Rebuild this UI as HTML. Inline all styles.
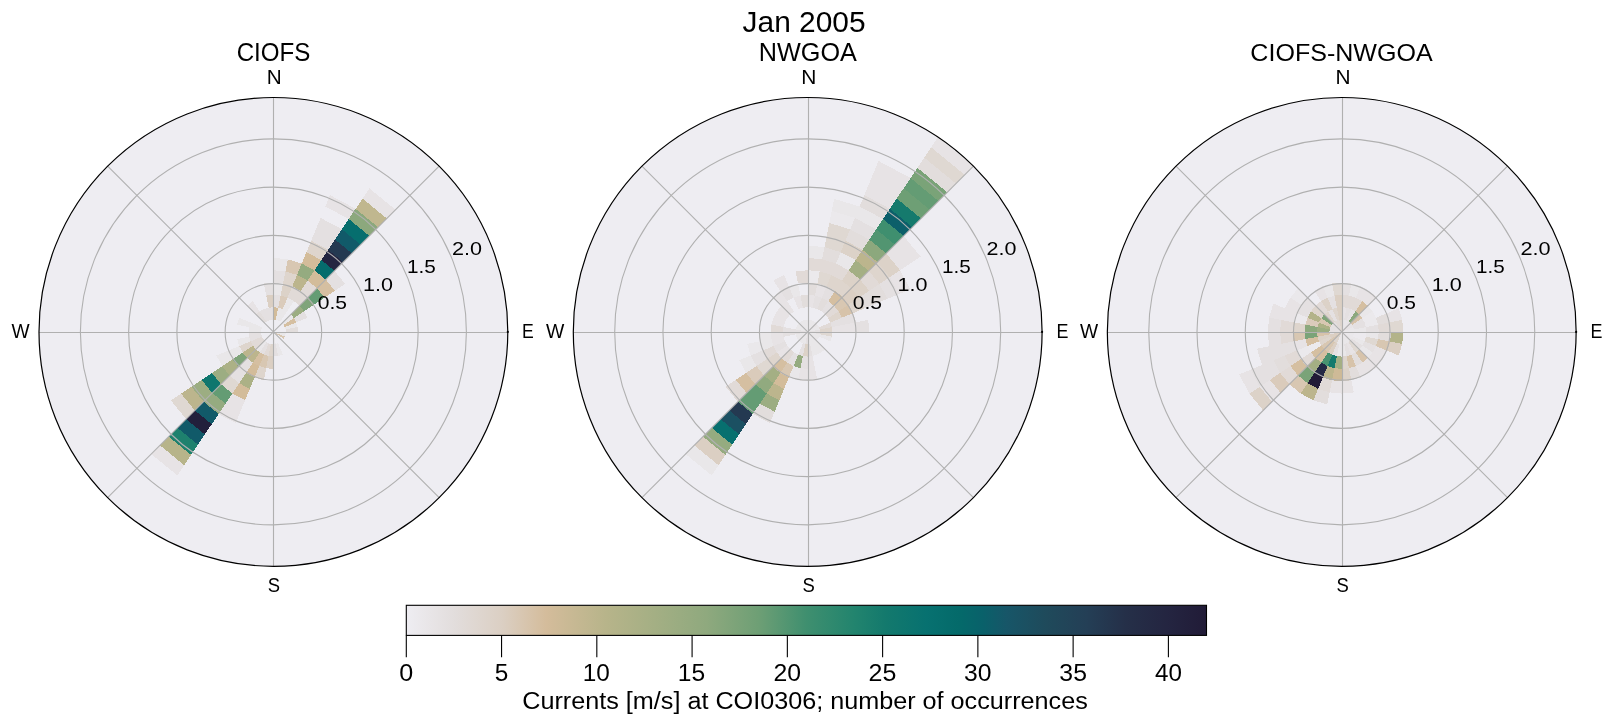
<!DOCTYPE html>
<html><head><meta charset="utf-8"><title>Jan 2005</title>
<style>html,body{margin:0;padding:0;background:#fff;width:1611px;height:724px;overflow:hidden;font-family:"Liberation Sans", sans-serif;}svg{display:block}text{-webkit-font-smoothing:antialiased;}.t{opacity:0.999}</style>
</head><body>
<svg width="1611" height="724" viewBox="0 0 1611 724" font-family='"Liberation Sans", sans-serif' fill="#000"><defs><linearGradient id="cb" x1="0" x2="1" y1="0" y2="0"><stop offset="0.000" stop-color="#eeedf2"/><stop offset="0.060" stop-color="#e2dddc"/><stop offset="0.120" stop-color="#dbcfc3"/><stop offset="0.175" stop-color="#d4bc9b"/><stop offset="0.250" stop-color="#b7b48a"/><stop offset="0.310" stop-color="#a4af84"/><stop offset="0.375" stop-color="#8fa97e"/><stop offset="0.440" stop-color="#6e9f75"/><stop offset="0.500" stop-color="#3f8f6f"/><stop offset="0.560" stop-color="#22846e"/><stop offset="0.600" stop-color="#13796d"/><stop offset="0.650" stop-color="#077170"/><stop offset="0.690" stop-color="#046a6a"/><stop offset="0.720" stop-color="#09616a"/><stop offset="0.750" stop-color="#175668"/><stop offset="0.800" stop-color="#1f4a5b"/><stop offset="0.850" stop-color="#243f56"/><stop offset="0.900" stop-color="#252f48"/><stop offset="0.950" stop-color="#242541"/><stop offset="1.000" stop-color="#211b37"/></linearGradient></defs><circle cx="273.4" cy="331.9" r="234.4" fill="#eeedf2"/>
<g shape-rendering="crispEdges">
<path d="M293.96,301.13 L300.82,290.87 L308.29,297.01 L299.57,305.73Z" fill="#e1dad7"/>
<path d="M300.82,290.87 L307.67,280.61 L317.02,288.28 L308.29,297.01Z" fill="#e1dad7"/>
<path d="M307.67,280.61 L314.52,270.35 L325.74,279.56 L317.02,288.28Z" fill="#d3bc9a"/>
<path d="M314.52,270.35 L321.38,260.10 L334.46,270.84 L325.74,279.56Z" fill="#056c6c"/>
<path d="M321.38,260.10 L328.23,249.84 L343.19,262.11 L334.46,270.84Z" fill="#242541"/>
<path d="M328.23,249.84 L335.09,239.58 L351.91,253.39 L343.19,262.11Z" fill="#243951"/>
<path d="M335.09,239.58 L341.94,229.32 L360.63,244.67 L351.91,253.39Z" fill="#115a69"/>
<path d="M341.94,229.32 L348.79,219.07 L369.36,235.94 L360.63,244.67Z" fill="#066e6e"/>
<path d="M348.79,219.07 L355.65,208.81 L378.08,227.22 L369.36,235.94Z" fill="#8ca87d"/>
<path d="M355.65,208.81 L362.50,198.55 L386.81,218.49 L378.08,227.22Z" fill="#c0b78f"/>
<path d="M362.50,198.55 L369.36,188.29 L395.53,209.77 L386.81,218.49Z" fill="#e7e3e5"/>
<path d="M278.12,320.50 L282.84,309.10 L287.11,311.38 L280.25,321.64Z" fill="#e9e7e9"/>
<path d="M282.84,309.10 L287.56,297.71 L293.96,301.13 L287.11,311.38Z" fill="#e9e7e9"/>
<path d="M287.56,297.71 L292.28,286.31 L300.82,290.87 L293.96,301.13Z" fill="#e1dad7"/>
<path d="M292.28,286.31 L297.01,274.91 L307.67,280.61 L300.82,290.87Z" fill="#bcb58d"/>
<path d="M297.01,274.91 L301.73,263.51 L314.52,270.35 L307.67,280.61Z" fill="#95ab80"/>
<path d="M301.73,263.51 L306.45,252.12 L321.38,260.10 L314.52,270.35Z" fill="#d3bc9a"/>
<path d="M306.45,252.12 L311.17,240.72 L328.23,249.84 L321.38,260.10Z" fill="#ded5cd"/>
<path d="M311.17,240.72 L315.89,229.32 L335.09,239.58 L328.23,249.84Z" fill="#e4e0e1"/>
<path d="M315.89,229.32 L320.61,217.92 L341.94,229.32 L335.09,239.58Z" fill="#e4e0e1"/>
<path d="M325.33,206.52 L330.05,195.13 L355.65,208.81 L348.79,219.07Z" fill="#e7e3e5"/>
<path d="M282.12,323.18 L290.85,314.45 L293.92,318.19 L283.66,325.05Z" fill="#e9e7e9"/>
<path d="M290.85,314.45 L299.57,305.73 L304.17,311.34 L293.92,318.19Z" fill="#9cad82"/>
<path d="M299.57,305.73 L308.29,297.01 L314.43,304.48 L304.17,311.34Z" fill="#80a47a"/>
<path d="M308.29,297.01 L317.02,288.28 L324.69,297.63 L314.43,304.48Z" fill="#649c74"/>
<path d="M317.02,288.28 L325.74,279.56 L334.95,290.78 L324.69,297.63Z" fill="#d5bfa1"/>
<path d="M325.74,279.56 L334.46,270.84 L345.20,283.92 L334.95,290.78Z" fill="#e4e0e1"/>
<path d="M275.81,319.80 L278.21,307.70 L282.84,309.10 L278.12,320.50Z" fill="#e9e7e9"/>
<path d="M278.21,307.70 L280.62,295.60 L287.56,297.71 L282.84,309.10Z" fill="#dacbbb"/>
<path d="M280.62,295.60 L283.03,283.50 L292.28,286.31 L287.56,297.71Z" fill="#dcd2c8"/>
<path d="M283.03,283.50 L285.43,271.40 L297.01,274.91 L292.28,286.31Z" fill="#ded5cd"/>
<path d="M285.43,271.40 L287.84,259.30 L301.73,263.51 L297.01,274.91Z" fill="#d8c7b2"/>
<path d="M273.40,319.56 L273.40,307.23 L278.21,307.70 L275.81,319.80Z" fill="#d3bc9a"/>
<path d="M273.40,307.23 L273.40,294.89 L280.62,295.60 L278.21,307.70Z" fill="#e4e0e1"/>
<path d="M273.40,294.89 L273.40,282.55 L283.03,283.50 L280.62,295.60Z" fill="#e9e7e9"/>
<path d="M273.40,282.55 L273.40,270.22 L285.43,271.40 L283.03,283.50Z" fill="#e4e0e1"/>
<path d="M273.40,270.22 L273.40,257.88 L287.84,259.30 L285.43,271.40Z" fill="#e9e7e9"/>
<path d="M270.99,319.80 L268.59,307.70 L273.40,307.23 L273.40,319.56Z" fill="#e4e0e1"/>
<path d="M268.59,307.70 L266.18,295.60 L273.40,294.89 L273.40,307.23Z" fill="#dbcfc3"/>
<path d="M266.18,295.60 L263.77,283.50 L273.40,282.55 L273.40,294.89Z" fill="#e4e0e1"/>
<path d="M268.68,320.50 L263.96,309.10 L268.59,307.70 L270.99,319.80Z" fill="#e4e0e1"/>
<path d="M283.66,325.05 L293.92,318.19 L296.20,322.46 L284.80,327.18Z" fill="#d5bfa1"/>
<path d="M293.92,318.19 L304.17,311.34 L307.59,317.74 L296.20,322.46Z" fill="#e4e0e1"/>
<path d="M284.80,327.18 L296.20,322.46 L297.60,327.09 L285.50,329.49Z" fill="#e9e7e9"/>
<path d="M285.50,329.49 L297.60,327.09 L298.07,331.90 L285.74,331.90Z" fill="#e2dddc"/>
<path d="M273.40,331.90 L284.80,336.62 L283.66,338.75 L273.40,331.90Z" fill="#d8c7b2"/>
<path d="M273.40,331.90 L285.74,331.90 L285.50,334.31 L273.40,331.90Z" fill="#e9e7e9"/>
<path d="M273.40,331.90 L285.50,334.31 L284.80,336.62 L273.40,331.90Z" fill="#e9e7e9"/>
<path d="M273.40,331.90 L275.81,344.00 L273.40,344.24 L273.40,331.90Z" fill="#e9e7e9"/>
<path d="M275.81,344.00 L278.21,356.10 L273.40,356.57 L273.40,344.24Z" fill="#e4e0e1"/>
<path d="M278.12,343.30 L282.84,354.70 L278.21,356.10 L275.81,344.00Z" fill="#e9e7e9"/>
<path d="M273.40,344.24 L273.40,356.57 L268.59,356.10 L270.99,344.00Z" fill="#ded5cd"/>
<path d="M273.40,356.57 L273.40,368.91 L266.18,368.20 L268.59,356.10Z" fill="#dbcfc3"/>
<path d="M270.99,344.00 L268.59,356.10 L263.96,354.70 L268.68,343.30Z" fill="#e1dad7"/>
<path d="M268.59,356.10 L266.18,368.20 L259.24,366.09 L263.96,354.70Z" fill="#d8c7b2"/>
<path d="M268.68,343.30 L263.96,354.70 L259.69,352.42 L266.55,342.16Z" fill="#e4e0e1"/>
<path d="M263.96,354.70 L259.24,366.09 L252.84,362.67 L259.69,352.42Z" fill="#d5bfa1"/>
<path d="M266.55,342.16 L259.69,352.42 L255.95,349.35 L264.68,340.62Z" fill="#e9e7e9"/>
<path d="M259.69,352.42 L252.84,362.67 L247.23,358.07 L255.95,349.35Z" fill="#bcb58d"/>
<path d="M252.84,362.67 L245.98,372.93 L238.51,366.79 L247.23,358.07Z" fill="#e4e0e1"/>
<path d="M264.68,340.62 L255.95,349.35 L252.88,345.61 L263.14,338.75Z" fill="#e1dad7"/>
<path d="M255.95,349.35 L247.23,358.07 L242.63,352.46 L252.88,345.61Z" fill="#bcb58d"/>
<path d="M263.14,338.75 L252.88,345.61 L250.60,341.34 L262.00,336.62Z" fill="#e1dad7"/>
<path d="M252.88,345.61 L242.63,352.46 L239.21,346.06 L250.60,341.34Z" fill="#ded5cd"/>
<path d="M262.00,336.62 L250.60,341.34 L249.20,336.71 L261.30,334.31Z" fill="#e4e0e1"/>
<path d="M261.30,334.31 L249.20,336.71 L248.73,331.90 L261.06,331.90Z" fill="#e4e0e1"/>
<path d="M261.06,331.90 L248.73,331.90 L249.20,327.09 L261.30,329.49Z" fill="#e9e7e9"/>
<path d="M261.30,329.49 L249.20,327.09 L250.60,322.46 L262.00,327.18Z" fill="#e9e7e9"/>
<path d="M249.20,327.09 L237.10,324.68 L239.21,317.74 L250.60,322.46Z" fill="#e9e7e9"/>
<path d="M264.68,323.18 L255.95,314.45 L259.69,311.38 L266.55,321.64Z" fill="#e2dddc"/>
<path d="M255.95,314.45 L247.23,305.73 L252.84,301.13 L259.69,311.38Z" fill="#e7e3e5"/>
<path d="M266.55,321.64 L259.69,311.38 L263.96,309.10 L268.68,320.50Z" fill="#e4e0e1"/>
<path d="M245.98,372.93 L239.13,383.19 L229.78,375.52 L238.51,366.79Z" fill="#e4e0e1"/>
<path d="M239.13,383.19 L232.28,393.45 L221.06,384.24 L229.78,375.52Z" fill="#dfd8d2"/>
<path d="M232.28,393.45 L225.42,403.70 L212.34,392.96 L221.06,384.24Z" fill="#649c74"/>
<path d="M225.42,403.70 L218.57,413.96 L203.61,401.69 L212.34,392.96Z" fill="#95ab80"/>
<path d="M218.57,413.96 L211.71,424.22 L194.89,410.41 L203.61,401.69Z" fill="#115a69"/>
<path d="M211.71,424.22 L204.86,434.48 L186.17,419.13 L194.89,410.41Z" fill="#22203c"/>
<path d="M204.86,434.48 L198.01,444.73 L177.44,427.86 L186.17,419.13Z" fill="#115a69"/>
<path d="M198.01,444.73 L191.15,454.99 L168.72,436.58 L177.44,427.86Z" fill="#1e816e"/>
<path d="M191.15,454.99 L184.30,465.25 L159.99,445.31 L168.72,436.58Z" fill="#b7b48a"/>
<path d="M184.30,465.25 L177.44,475.51 L151.27,454.03 L159.99,445.31Z" fill="#e7e3e5"/>
<path d="M247.23,358.07 L238.51,366.79 L232.37,359.32 L242.63,352.46Z" fill="#80a47a"/>
<path d="M238.51,366.79 L229.78,375.52 L222.11,366.17 L232.37,359.32Z" fill="#acb186"/>
<path d="M229.78,375.52 L221.06,384.24 L211.85,373.02 L222.11,366.17Z" fill="#9cad82"/>
<path d="M221.06,384.24 L212.34,392.96 L201.60,379.88 L211.85,373.02Z" fill="#0e766e"/>
<path d="M212.34,392.96 L203.61,401.69 L191.34,386.73 L201.60,379.88Z" fill="#9cad82"/>
<path d="M203.61,401.69 L194.89,410.41 L181.08,393.59 L191.34,386.73Z" fill="#bcb58d"/>
<path d="M194.89,410.41 L186.17,419.13 L170.82,400.44 L181.08,393.59Z" fill="#dfd8d2"/>
<path d="M259.24,366.09 L254.52,377.49 L245.98,372.93 L252.84,362.67Z" fill="#d3bc9a"/>
<path d="M254.52,377.49 L249.79,388.89 L239.13,383.19 L245.98,372.93Z" fill="#acb186"/>
<path d="M249.79,388.89 L245.07,400.29 L232.28,393.45 L239.13,383.19Z" fill="#d3bc9a"/>
<path d="M245.07,400.29 L240.35,411.68 L225.42,403.70 L232.28,393.45Z" fill="#e7e3e5"/>
<path d="M240.35,411.68 L235.63,423.08 L218.57,413.96 L225.42,403.70Z" fill="#e7e3e5"/>
<path d="M266.18,368.20 L263.77,380.30 L254.52,377.49 L259.24,366.09Z" fill="#ded5cd"/>
<path d="M242.63,352.46 L232.37,359.32 L227.81,350.78 L239.21,346.06Z" fill="#e9e7e9"/>
<path d="M232.37,359.32 L222.11,366.17 L216.41,355.51 L227.81,350.78Z" fill="#e9e7e9"/>
<path d="M250.60,341.34 L239.21,346.06 L237.10,339.12 L249.20,336.71Z" fill="#e9e7e9"/>
</g>
<circle cx="273.4" cy="331.9" r="48.25" fill="none" stroke="#b0b0b0" stroke-width="1.1"/>
<circle cx="273.4" cy="331.9" r="96.50" fill="none" stroke="#b0b0b0" stroke-width="1.1"/>
<circle cx="273.4" cy="331.9" r="144.75" fill="none" stroke="#b0b0b0" stroke-width="1.1"/>
<circle cx="273.4" cy="331.9" r="193.00" fill="none" stroke="#b0b0b0" stroke-width="1.1"/>
<line x1="273.5" y1="331.9" x2="273.5" y2="97.50" stroke="#b0b0b0" stroke-width="1.1"/>
<line x1="273.4" y1="331.9" x2="439.15" y2="166.15" stroke="#b0b0b0" stroke-width="1.1"/>
<line x1="273.4" y1="332.5" x2="507.80" y2="332.5" stroke="#b0b0b0" stroke-width="1.1"/>
<line x1="273.4" y1="331.9" x2="439.15" y2="497.65" stroke="#b0b0b0" stroke-width="1.1"/>
<line x1="273.5" y1="331.9" x2="273.5" y2="566.30" stroke="#b0b0b0" stroke-width="1.1"/>
<line x1="273.4" y1="331.9" x2="107.65" y2="497.65" stroke="#b0b0b0" stroke-width="1.1"/>
<line x1="273.4" y1="332.5" x2="39.00" y2="332.5" stroke="#b0b0b0" stroke-width="1.1"/>
<line x1="273.4" y1="331.9" x2="107.65" y2="166.15" stroke="#b0b0b0" stroke-width="1.1"/>
<circle cx="273.4" cy="331.9" r="234.4" fill="none" stroke="#000" stroke-width="1.2"/>
<circle cx="507.80" cy="331.90" r="1.1" fill="#000"/>
<circle cx="807.7" cy="331.9" r="234.4" fill="#eeedf2"/>
<g shape-rendering="crispEdges">
<path d="M821.41,311.38 L828.26,301.13 L833.87,305.73 L825.15,314.45Z" fill="#e4e0e1"/>
<path d="M828.26,301.13 L835.12,290.87 L842.59,297.01 L833.87,305.73Z" fill="#d5bfa1"/>
<path d="M835.12,290.87 L841.97,280.61 L851.32,288.28 L842.59,297.01Z" fill="#ded5cd"/>
<path d="M841.97,280.61 L848.82,270.35 L860.04,279.56 L851.32,288.28Z" fill="#dcd2c8"/>
<path d="M848.82,270.35 L855.68,260.10 L868.76,270.84 L860.04,279.56Z" fill="#a4af84"/>
<path d="M855.68,260.10 L862.53,249.84 L877.49,262.11 L868.76,270.84Z" fill="#bcb58d"/>
<path d="M862.53,249.84 L869.39,239.58 L886.21,253.39 L877.49,262.11Z" fill="#8ca87d"/>
<path d="M869.39,239.58 L876.24,229.32 L894.93,244.67 L886.21,253.39Z" fill="#529571"/>
<path d="M876.24,229.32 L883.09,219.07 L903.66,235.94 L894.93,244.67Z" fill="#3f8f6f"/>
<path d="M883.09,219.07 L889.95,208.81 L912.38,227.22 L903.66,235.94Z" fill="#0c5f6a"/>
<path d="M889.95,208.81 L896.80,198.55 L921.11,218.49 L912.38,227.22Z" fill="#157a6d"/>
<path d="M896.80,198.55 L903.66,188.29 L929.83,209.77 L921.11,218.49Z" fill="#6e9f75"/>
<path d="M903.66,188.29 L910.51,178.03 L938.55,201.05 L929.83,209.77Z" fill="#649c74"/>
<path d="M910.51,178.03 L917.36,167.78 L947.28,192.32 L938.55,201.05Z" fill="#7aa378"/>
<path d="M917.36,167.78 L924.22,157.52 L956.00,183.60 L947.28,192.32Z" fill="#e2dddc"/>
<path d="M924.22,157.52 L931.07,147.26 L964.72,174.88 L956.00,183.60Z" fill="#dfd8d2"/>
<path d="M931.07,147.26 L937.93,137.00 L973.45,166.15 L964.72,174.88Z" fill="#e7e3e5"/>
<path d="M817.14,309.10 L821.86,297.71 L828.26,301.13 L821.41,311.38Z" fill="#e2dddc"/>
<path d="M821.86,297.71 L826.58,286.31 L835.12,290.87 L828.26,301.13Z" fill="#e4e0e1"/>
<path d="M826.58,286.31 L831.31,274.91 L841.97,280.61 L835.12,290.87Z" fill="#ded5cd"/>
<path d="M831.31,274.91 L836.03,263.51 L848.82,270.35 L841.97,280.61Z" fill="#e1dad7"/>
<path d="M836.03,263.51 L840.75,252.12 L855.68,260.10 L848.82,270.35Z" fill="#e9e7e9"/>
<path d="M840.75,252.12 L845.47,240.72 L862.53,249.84 L855.68,260.10Z" fill="#dcd2c8"/>
<path d="M845.47,240.72 L850.19,229.32 L869.39,239.58 L862.53,249.84Z" fill="#e2dddc"/>
<path d="M850.19,229.32 L854.91,217.92 L876.24,229.32 L869.39,239.58Z" fill="#e4e0e1"/>
<path d="M854.91,217.92 L859.63,206.52 L883.09,219.07 L876.24,229.32Z" fill="#e9e7e9"/>
<path d="M859.63,206.52 L864.35,195.13 L889.95,208.81 L883.09,219.07Z" fill="#e2dddc"/>
<path d="M864.35,195.13 L869.07,183.73 L896.80,198.55 L889.95,208.81Z" fill="#e7e3e5"/>
<path d="M869.07,183.73 L873.80,172.33 L903.66,188.29 L896.80,198.55Z" fill="#e7e3e5"/>
<path d="M873.80,172.33 L878.52,160.93 L910.51,178.03 L903.66,188.29Z" fill="#e7e3e5"/>
<path d="M812.51,307.70 L814.92,295.60 L821.86,297.71 L817.14,309.10Z" fill="#e4e0e1"/>
<path d="M814.92,295.60 L817.33,283.50 L826.58,286.31 L821.86,297.71Z" fill="#e7e3e5"/>
<path d="M817.33,283.50 L819.73,271.40 L831.31,274.91 L826.58,286.31Z" fill="#dfd8d2"/>
<path d="M819.73,271.40 L822.14,259.30 L836.03,263.51 L831.31,274.91Z" fill="#e1dad7"/>
<path d="M822.14,259.30 L824.55,247.20 L840.75,252.12 L836.03,263.51Z" fill="#e2dddc"/>
<path d="M824.55,247.20 L826.95,235.10 L845.47,240.72 L840.75,252.12Z" fill="#dfd8d2"/>
<path d="M826.95,235.10 L829.36,223.00 L850.19,229.32 L845.47,240.72Z" fill="#dfd8d2"/>
<path d="M829.36,223.00 L831.77,210.90 L854.91,217.92 L850.19,229.32Z" fill="#ebe9ec"/>
<path d="M831.77,210.90 L834.17,198.80 L859.63,206.52 L854.91,217.92Z" fill="#e9e7e9"/>
<path d="M807.70,307.23 L807.70,294.89 L814.92,295.60 L812.51,307.70Z" fill="#e7e3e5"/>
<path d="M807.70,294.89 L807.70,282.55 L817.33,283.50 L814.92,295.60Z" fill="#e2dddc"/>
<path d="M807.70,282.55 L807.70,270.22 L819.73,271.40 L817.33,283.50Z" fill="#ebe9ec"/>
<path d="M807.70,270.22 L807.70,257.88 L822.14,259.30 L819.73,271.40Z" fill="#e1dad7"/>
<path d="M807.70,257.88 L807.70,245.54 L824.55,247.20 L822.14,259.30Z" fill="#e9e7e9"/>
<path d="M802.89,307.70 L800.48,295.60 L807.70,294.89 L807.70,307.23Z" fill="#e2dddc"/>
<path d="M798.07,283.50 L795.67,271.40 L807.70,270.22 L807.70,282.55Z" fill="#e1dad7"/>
<path d="M825.15,314.45 L833.87,305.73 L838.47,311.34 L828.22,318.19Z" fill="#e1dad7"/>
<path d="M833.87,305.73 L842.59,297.01 L848.73,304.48 L838.47,311.34Z" fill="#d8c7b2"/>
<path d="M842.59,297.01 L851.32,288.28 L858.99,297.63 L848.73,304.48Z" fill="#dbcfc3"/>
<path d="M851.32,288.28 L860.04,279.56 L869.25,290.78 L858.99,297.63Z" fill="#dcd2c8"/>
<path d="M860.04,279.56 L868.76,270.84 L879.50,283.92 L869.25,290.78Z" fill="#e1dad7"/>
<path d="M868.76,270.84 L877.49,262.11 L889.76,277.07 L879.50,283.92Z" fill="#ded5cd"/>
<path d="M877.49,262.11 L886.21,253.39 L900.02,270.21 L889.76,277.07Z" fill="#dcd2c8"/>
<path d="M886.21,253.39 L894.93,244.67 L910.28,263.36 L900.02,270.21Z" fill="#e7e3e5"/>
<path d="M894.93,244.67 L903.66,235.94 L920.53,256.51 L910.28,263.36Z" fill="#e7e3e5"/>
<path d="M838.47,311.34 L848.73,304.48 L853.29,313.02 L841.89,317.74Z" fill="#d7c3aa"/>
<path d="M848.73,304.48 L858.99,297.63 L864.69,308.29 L853.29,313.02Z" fill="#ded5cd"/>
<path d="M858.99,297.63 L869.25,290.78 L876.09,303.57 L864.69,308.29Z" fill="#e2dddc"/>
<path d="M869.25,290.78 L879.50,283.92 L887.48,298.85 L876.09,303.57Z" fill="#e2dddc"/>
<path d="M879.50,283.92 L889.76,277.07 L898.88,294.13 L887.48,298.85Z" fill="#e4e0e1"/>
<path d="M889.76,277.07 L900.02,270.21 L910.28,289.41 L898.88,294.13Z" fill="#e7e3e5"/>
<path d="M793.99,352.42 L787.14,362.67 L781.53,358.07 L790.25,349.35Z" fill="#e1dad7"/>
<path d="M787.14,362.67 L780.28,372.93 L772.81,366.79 L781.53,358.07Z" fill="#d5bfa1"/>
<path d="M780.28,372.93 L773.43,383.19 L764.08,375.52 L772.81,366.79Z" fill="#a4af84"/>
<path d="M773.43,383.19 L766.58,393.45 L755.36,384.24 L764.08,375.52Z" fill="#91aa7f"/>
<path d="M766.58,393.45 L759.72,403.70 L746.64,392.96 L755.36,384.24Z" fill="#649c74"/>
<path d="M759.72,403.70 L752.87,413.96 L737.91,401.69 L746.64,392.96Z" fill="#649c74"/>
<path d="M752.87,413.96 L746.01,424.22 L729.19,410.41 L737.91,401.69Z" fill="#243951"/>
<path d="M746.01,424.22 L739.16,434.48 L720.47,419.13 L729.19,410.41Z" fill="#1b5062"/>
<path d="M739.16,434.48 L732.31,444.73 L711.74,427.86 L720.47,419.13Z" fill="#07706f"/>
<path d="M732.31,444.73 L725.45,454.99 L703.02,436.58 L711.74,427.86Z" fill="#95ab80"/>
<path d="M790.25,349.35 L781.53,358.07 L776.93,352.46 L787.18,345.61Z" fill="#e7e3e5"/>
<path d="M781.53,358.07 L772.81,366.79 L766.67,359.32 L776.93,352.46Z" fill="#ded5cd"/>
<path d="M772.81,366.79 L764.08,375.52 L756.41,366.17 L766.67,359.32Z" fill="#dfd8d2"/>
<path d="M764.08,375.52 L755.36,384.24 L746.15,373.02 L756.41,366.17Z" fill="#dacbbb"/>
<path d="M755.36,384.24 L746.64,392.96 L735.90,379.88 L746.15,373.02Z" fill="#d5bfa1"/>
<path d="M746.64,392.96 L737.91,401.69 L725.64,386.73 L735.90,379.88Z" fill="#e1dad7"/>
<path d="M787.18,345.61 L776.93,352.46 L773.51,346.06 L784.90,341.34Z" fill="#e4e0e1"/>
<path d="M776.93,352.46 L766.67,359.32 L762.11,350.78 L773.51,346.06Z" fill="#e1dad7"/>
<path d="M766.67,359.32 L756.41,366.17 L750.71,355.51 L762.11,350.78Z" fill="#e4e0e1"/>
<path d="M756.41,366.17 L746.15,373.02 L739.31,360.23 L750.71,355.51Z" fill="#e9e7e9"/>
<path d="M784.90,341.34 L773.51,346.06 L771.40,339.12 L783.50,336.71Z" fill="#e7e3e5"/>
<path d="M773.51,346.06 L762.11,350.78 L759.30,341.53 L771.40,339.12Z" fill="#e9e7e9"/>
<path d="M762.11,350.78 L750.71,355.51 L747.20,343.93 L759.30,341.53Z" fill="#eae8eb"/>
<path d="M783.50,336.71 L771.40,339.12 L770.69,331.90 L783.03,331.90Z" fill="#e7e3e5"/>
<path d="M771.40,339.12 L759.30,341.53 L758.35,331.90 L770.69,331.90Z" fill="#e9e7e9"/>
<path d="M798.26,354.70 L793.54,366.09 L787.14,362.67 L793.99,352.42Z" fill="#e4e0e1"/>
<path d="M793.54,366.09 L788.82,377.49 L780.28,372.93 L787.14,362.67Z" fill="#d8c7b2"/>
<path d="M788.82,377.49 L784.09,388.89 L773.43,383.19 L780.28,372.93Z" fill="#d3bc9a"/>
<path d="M784.09,388.89 L779.37,400.29 L766.58,393.45 L773.43,383.19Z" fill="#bcb58d"/>
<path d="M779.37,400.29 L774.65,411.68 L759.72,403.70 L766.58,393.45Z" fill="#9cad82"/>
<path d="M774.65,411.68 L769.93,423.08 L752.87,413.96 L759.72,403.70Z" fill="#e2dddc"/>
<path d="M802.89,356.10 L800.48,368.20 L793.54,366.09 L798.26,354.70Z" fill="#95ab80"/>
<path d="M800.48,368.20 L798.07,380.30 L788.82,377.49 L793.54,366.09Z" fill="#e9e7e9"/>
<path d="M805.29,344.00 L802.89,356.10 L798.26,354.70 L802.98,343.30Z" fill="#e4e0e1"/>
<path d="M807.70,344.24 L807.70,356.57 L802.89,356.10 L805.29,344.00Z" fill="#dcd2c8"/>
<path d="M807.70,356.57 L807.70,368.91 L800.48,368.20 L802.89,356.10Z" fill="#e4e0e1"/>
<path d="M807.70,368.91 L807.70,381.25 L798.07,380.30 L800.48,368.20Z" fill="#e7e3e5"/>
<path d="M810.11,344.00 L812.51,356.10 L807.70,356.57 L807.70,344.24Z" fill="#e4e0e1"/>
<path d="M812.51,356.10 L814.92,368.20 L807.70,368.91 L807.70,356.57Z" fill="#e7e3e5"/>
<path d="M814.92,368.20 L817.33,380.30 L807.70,381.25 L807.70,368.91Z" fill="#e7e3e5"/>
<path d="M828.22,318.19 L838.47,311.34 L841.89,317.74 L830.50,322.46Z" fill="#ded5cd"/>
<path d="M819.10,327.18 L830.50,322.46 L831.90,327.09 L819.80,329.49Z" fill="#e1dad7"/>
<path d="M830.50,322.46 L841.89,317.74 L844.00,324.68 L831.90,327.09Z" fill="#e4e0e1"/>
<path d="M819.80,329.49 L831.90,327.09 L832.37,331.90 L820.04,331.90Z" fill="#ded5cd"/>
<path d="M831.90,327.09 L844.00,324.68 L844.71,331.90 L832.37,331.90Z" fill="#e7e3e5"/>
<path d="M844.00,324.68 L856.10,322.27 L857.05,331.90 L844.71,331.90Z" fill="#e7e3e5"/>
<path d="M856.10,322.27 L868.20,319.87 L869.38,331.90 L857.05,331.90Z" fill="#e4e0e1"/>
<path d="M820.04,331.90 L832.37,331.90 L831.90,336.71 L819.80,334.31Z" fill="#dfd8d2"/>
<path d="M819.80,334.31 L831.90,336.71 L830.50,341.34 L819.10,336.62Z" fill="#e9e7e9"/>
<path d="M816.42,340.62 L825.15,349.35 L821.41,352.42 L814.55,342.16Z" fill="#e9e7e9"/>
<path d="M814.55,342.16 L821.41,352.42 L817.14,354.70 L812.42,343.30Z" fill="#e9e7e9"/>
<path d="M725.45,454.99 L718.60,465.25 L694.29,445.31 L703.02,436.58Z" fill="#dbcfc3"/>
<path d="M718.60,465.25 L711.74,475.51 L685.57,454.03 L694.29,445.31Z" fill="#e9e7e9"/>
<path d="M780.28,290.87 L773.43,280.61 L784.09,274.91 L788.82,286.31Z" fill="#e7e3e5"/>
<path d="M787.14,301.13 L780.28,290.87 L788.82,286.31 L793.54,297.71Z" fill="#e4e0e1"/>
<path d="M787.18,318.19 L776.93,311.34 L781.53,305.73 L790.25,314.45Z" fill="#e7e3e5"/>
<path d="M783.03,331.90 L770.69,331.90 L771.40,324.68 L783.50,327.09Z" fill="#e1dad7"/>
<path d="M795.36,331.90 L783.03,331.90 L783.50,327.09 L795.60,329.49Z" fill="#e4e0e1"/>
<path d="M795.60,334.31 L783.50,336.71 L783.03,331.90 L795.36,331.90Z" fill="#e4e0e1"/>
<path d="M790.25,314.45 L781.53,305.73 L787.14,301.13 L793.99,311.38Z" fill="#e7e3e5"/>
<path d="M781.53,305.73 L772.81,297.01 L780.28,290.87 L787.14,301.13Z" fill="#e7e3e5"/>
<path d="M798.26,309.10 L793.54,297.71 L800.48,295.60 L802.89,307.70Z" fill="#e7e3e5"/>
<path d="M793.54,297.71 L788.82,286.31 L798.07,283.50 L800.48,295.60Z" fill="#e9e7e9"/>
<path d="M784.90,322.46 L773.51,317.74 L776.93,311.34 L787.18,318.19Z" fill="#e7e3e5"/>
<path d="M783.50,327.09 L771.40,324.68 L773.51,317.74 L784.90,322.46Z" fill="#e7e3e5"/>
<path d="M841.89,317.74 L853.29,313.02 L856.10,322.27 L844.00,324.68Z" fill="#e4e0e1"/>
<path d="M812.42,343.30 L817.14,354.70 L812.51,356.10 L810.11,344.00Z" fill="#e9e7e9"/>
<path d="M807.70,331.90 L807.70,319.56 L810.11,319.80 L807.70,331.90Z" fill="#e9e7e9"/>
<path d="M807.70,331.90 L810.11,319.80 L812.42,320.50 L807.70,331.90Z" fill="#e9e7e9"/>
<path d="M807.70,331.90 L812.42,320.50 L814.55,321.64 L807.70,331.90Z" fill="#e9e7e9"/>
<path d="M807.70,331.90 L814.55,321.64 L816.42,323.18 L807.70,331.90Z" fill="#e9e7e9"/>
<path d="M807.70,331.90 L816.42,323.18 L817.96,325.05 L807.70,331.90Z" fill="#e7e3e5"/>
<path d="M807.70,331.90 L817.96,325.05 L819.10,327.18 L807.70,331.90Z" fill="#e9e7e9"/>
<path d="M807.70,331.90 L819.10,327.18 L819.80,329.49 L807.70,331.90Z" fill="#e9e7e9"/>
<path d="M807.70,331.90 L819.80,329.49 L820.04,331.90 L807.70,331.90Z" fill="#e4e0e1"/>
<path d="M807.70,331.90 L820.04,331.90 L819.80,334.31 L807.70,331.90Z" fill="#e4e0e1"/>
<path d="M807.70,331.90 L819.80,334.31 L819.10,336.62 L807.70,331.90Z" fill="#e9e7e9"/>
<path d="M807.70,331.90 L819.10,336.62 L817.96,338.75 L807.70,331.90Z" fill="#e9e7e9"/>
<path d="M807.70,331.90 L817.96,338.75 L816.42,340.62 L807.70,331.90Z" fill="#e9e7e9"/>
<path d="M807.70,331.90 L816.42,340.62 L814.55,342.16 L807.70,331.90Z" fill="#e9e7e9"/>
<path d="M807.70,331.90 L814.55,342.16 L812.42,343.30 L807.70,331.90Z" fill="#e9e7e9"/>
<path d="M807.70,331.90 L812.42,343.30 L810.11,344.00 L807.70,331.90Z" fill="#e9e7e9"/>
<path d="M807.70,331.90 L810.11,344.00 L807.70,344.24 L807.70,331.90Z" fill="#e9e7e9"/>
<path d="M807.70,331.90 L807.70,344.24 L805.29,344.00 L807.70,331.90Z" fill="#e4e0e1"/>
<path d="M807.70,331.90 L805.29,344.00 L802.98,343.30 L807.70,331.90Z" fill="#e9e7e9"/>
<path d="M807.70,331.90 L802.98,343.30 L800.85,342.16 L807.70,331.90Z" fill="#e9e7e9"/>
<path d="M807.70,331.90 L800.85,342.16 L798.98,340.62 L807.70,331.90Z" fill="#e9e7e9"/>
<path d="M807.70,331.90 L798.98,340.62 L797.44,338.75 L807.70,331.90Z" fill="#e9e7e9"/>
<path d="M807.70,331.90 L797.44,338.75 L796.30,336.62 L807.70,331.90Z" fill="#e9e7e9"/>
<path d="M807.70,331.90 L796.30,336.62 L795.60,334.31 L807.70,331.90Z" fill="#e9e7e9"/>
<path d="M807.70,331.90 L795.60,334.31 L795.36,331.90 L807.70,331.90Z" fill="#e4e0e1"/>
<path d="M807.70,331.90 L795.36,331.90 L795.60,329.49 L807.70,331.90Z" fill="#e4e0e1"/>
<path d="M807.70,331.90 L795.60,329.49 L796.30,327.18 L807.70,331.90Z" fill="#e9e7e9"/>
<path d="M807.70,331.90 L796.30,327.18 L797.44,325.05 L807.70,331.90Z" fill="#e9e7e9"/>
<path d="M807.70,331.90 L797.44,325.05 L798.98,323.18 L807.70,331.90Z" fill="#e9e7e9"/>
<path d="M807.70,331.90 L798.98,323.18 L800.85,321.64 L807.70,331.90Z" fill="#e9e7e9"/>
<path d="M807.70,331.90 L800.85,321.64 L802.98,320.50 L807.70,331.90Z" fill="#e9e7e9"/>
<path d="M807.70,331.90 L802.98,320.50 L805.29,319.80 L807.70,331.90Z" fill="#e9e7e9"/>
<path d="M807.70,331.90 L805.29,319.80 L807.70,319.56 L807.70,331.90Z" fill="#e9e7e9"/>
</g>
<circle cx="807.7" cy="331.9" r="48.25" fill="none" stroke="#b0b0b0" stroke-width="1.1"/>
<circle cx="807.7" cy="331.9" r="96.50" fill="none" stroke="#b0b0b0" stroke-width="1.1"/>
<circle cx="807.7" cy="331.9" r="144.75" fill="none" stroke="#b0b0b0" stroke-width="1.1"/>
<circle cx="807.7" cy="331.9" r="193.00" fill="none" stroke="#b0b0b0" stroke-width="1.1"/>
<line x1="808.5" y1="331.9" x2="808.5" y2="97.50" stroke="#b0b0b0" stroke-width="1.1"/>
<line x1="807.7" y1="331.9" x2="973.45" y2="166.15" stroke="#b0b0b0" stroke-width="1.1"/>
<line x1="807.7" y1="332.5" x2="1042.10" y2="332.5" stroke="#b0b0b0" stroke-width="1.1"/>
<line x1="807.7" y1="331.9" x2="973.45" y2="497.65" stroke="#b0b0b0" stroke-width="1.1"/>
<line x1="808.5" y1="331.9" x2="808.5" y2="566.30" stroke="#b0b0b0" stroke-width="1.1"/>
<line x1="807.7" y1="331.9" x2="641.95" y2="497.65" stroke="#b0b0b0" stroke-width="1.1"/>
<line x1="807.7" y1="332.5" x2="573.30" y2="332.5" stroke="#b0b0b0" stroke-width="1.1"/>
<line x1="807.7" y1="331.9" x2="641.95" y2="166.15" stroke="#b0b0b0" stroke-width="1.1"/>
<circle cx="807.7" cy="331.9" r="234.4" fill="none" stroke="#000" stroke-width="1.2"/>
<circle cx="1042.10" cy="331.90" r="1.1" fill="#000"/>
<circle cx="1341.75" cy="331.9" r="234.4" fill="#eeedf2"/>
<g shape-rendering="crispEdges">
<path d="M1332.31,354.70 L1327.59,366.09 L1321.19,362.67 L1328.04,352.42Z" fill="#489270"/>
<path d="M1336.94,356.10 L1334.53,368.20 L1327.59,366.09 L1332.31,354.70Z" fill="#157a6d"/>
<path d="M1341.75,356.57 L1341.75,368.91 L1334.53,368.20 L1336.94,356.10Z" fill="#a4af84"/>
<path d="M1346.56,356.10 L1348.97,368.20 L1341.75,368.91 L1341.75,356.57Z" fill="#ded5cd"/>
<path d="M1327.59,366.09 L1322.87,377.49 L1314.33,372.93 L1321.19,362.67Z" fill="#242944"/>
<path d="M1322.87,377.49 L1318.14,388.89 L1307.48,383.19 L1314.33,372.93Z" fill="#211b37"/>
<path d="M1314.33,372.93 L1307.48,383.19 L1298.13,375.52 L1306.86,366.79Z" fill="#7aa378"/>
<path d="M1321.19,362.67 L1314.33,372.93 L1306.86,366.79 L1315.58,358.07Z" fill="#a4af84"/>
<path d="M1328.04,352.42 L1321.19,362.67 L1315.58,358.07 L1324.30,349.35Z" fill="#d5bfa1"/>
<path d="M1318.14,388.89 L1313.42,400.29 L1300.63,393.45 L1307.48,383.19Z" fill="#bcb58d"/>
<path d="M1307.48,383.19 L1300.63,393.45 L1289.41,384.24 L1298.13,375.52Z" fill="#d8c7b2"/>
<path d="M1329.72,392.40 L1327.31,404.50 L1313.42,400.29 L1318.14,388.89Z" fill="#e2dddc"/>
<path d="M1332.12,380.30 L1329.72,392.40 L1318.14,388.89 L1322.87,377.49Z" fill="#e1dad7"/>
<path d="M1334.53,368.20 L1332.12,380.30 L1322.87,377.49 L1327.59,366.09Z" fill="#bcb58d"/>
<path d="M1341.75,368.91 L1341.75,381.25 L1332.12,380.30 L1334.53,368.20Z" fill="#ceba97"/>
<path d="M1348.97,368.20 L1351.38,380.30 L1341.75,381.25 L1341.75,368.91Z" fill="#dcd2c8"/>
<path d="M1341.75,381.25 L1341.75,393.58 L1329.72,392.40 L1332.12,380.30Z" fill="#e7e3e5"/>
<path d="M1306.86,366.79 L1298.13,375.52 L1290.46,366.17 L1300.72,359.32Z" fill="#d5bfa1"/>
<path d="M1315.58,358.07 L1306.86,366.79 L1300.72,359.32 L1310.98,352.46Z" fill="#e1dad7"/>
<path d="M1324.30,349.35 L1315.58,358.07 L1310.98,352.46 L1321.23,345.61Z" fill="#d5bfa1"/>
<path d="M1298.13,375.52 L1289.41,384.24 L1280.20,373.02 L1290.46,366.17Z" fill="#e1dad7"/>
<path d="M1289.41,384.24 L1280.69,392.96 L1269.95,379.88 L1280.20,373.02Z" fill="#dacbbb"/>
<path d="M1280.69,392.96 L1271.96,401.69 L1259.69,386.73 L1269.95,379.88Z" fill="#e7e3e5"/>
<path d="M1271.96,401.69 L1263.24,410.41 L1249.43,393.59 L1259.69,386.73Z" fill="#dcd2c8"/>
<path d="M1321.23,345.61 L1310.98,352.46 L1307.56,346.06 L1318.95,341.34Z" fill="#eceaee"/>
<path d="M1310.98,352.46 L1300.72,359.32 L1296.16,350.78 L1307.56,346.06Z" fill="#ebe9ec"/>
<path d="M1300.72,359.32 L1290.46,366.17 L1284.76,355.51 L1296.16,350.78Z" fill="#e1dad7"/>
<path d="M1290.46,366.17 L1280.20,373.02 L1273.36,360.23 L1284.76,355.51Z" fill="#e2dddc"/>
<path d="M1280.20,373.02 L1269.95,379.88 L1261.97,364.95 L1273.36,360.23Z" fill="#e4e0e1"/>
<path d="M1269.95,379.88 L1259.69,386.73 L1250.57,369.67 L1261.97,364.95Z" fill="#e4e0e1"/>
<path d="M1259.69,386.73 L1249.43,393.59 L1239.17,374.39 L1250.57,369.67Z" fill="#e7e3e5"/>
<path d="M1318.95,341.34 L1307.56,346.06 L1305.45,339.12 L1317.55,336.71Z" fill="#d5bfa1"/>
<path d="M1307.56,346.06 L1296.16,350.78 L1293.35,341.53 L1305.45,339.12Z" fill="#e7e3e5"/>
<path d="M1296.16,350.78 L1284.76,355.51 L1281.25,343.93 L1293.35,341.53Z" fill="#e4e0e1"/>
<path d="M1284.76,355.51 L1273.36,360.23 L1269.15,346.34 L1281.25,343.93Z" fill="#e4e0e1"/>
<path d="M1273.36,360.23 L1261.97,364.95 L1257.05,348.75 L1269.15,346.34Z" fill="#e4e0e1"/>
<path d="M1329.65,334.31 L1317.55,336.71 L1317.08,331.90 L1329.41,331.90Z" fill="#d7c3aa"/>
<path d="M1317.55,336.71 L1305.45,339.12 L1304.74,331.90 L1317.08,331.90Z" fill="#7aa378"/>
<path d="M1305.45,339.12 L1293.35,341.53 L1292.40,331.90 L1304.74,331.90Z" fill="#d8c7b2"/>
<path d="M1293.35,341.53 L1281.25,343.93 L1280.07,331.90 L1292.40,331.90Z" fill="#e1dad7"/>
<path d="M1281.25,343.93 L1269.15,346.34 L1267.73,331.90 L1280.07,331.90Z" fill="#e4e0e1"/>
<path d="M1329.41,331.90 L1317.08,331.90 L1317.55,327.09 L1329.65,329.49Z" fill="#9cad82"/>
<path d="M1317.08,331.90 L1304.74,331.90 L1305.45,324.68 L1317.55,327.09Z" fill="#8ca87d"/>
<path d="M1304.74,331.90 L1292.40,331.90 L1293.35,322.27 L1305.45,324.68Z" fill="#ded5cd"/>
<path d="M1292.40,331.90 L1280.07,331.90 L1281.25,319.87 L1293.35,322.27Z" fill="#e1dad7"/>
<path d="M1280.07,331.90 L1267.73,331.90 L1269.15,317.46 L1281.25,319.87Z" fill="#e4e0e1"/>
<path d="M1329.65,329.49 L1317.55,327.09 L1318.95,322.46 L1330.35,327.18Z" fill="#acb186"/>
<path d="M1317.55,327.09 L1305.45,324.68 L1307.56,317.74 L1318.95,322.46Z" fill="#dacbbb"/>
<path d="M1305.45,324.68 L1293.35,322.27 L1296.16,313.02 L1307.56,317.74Z" fill="#ebe9ec"/>
<path d="M1293.35,322.27 L1281.25,319.87 L1284.76,308.29 L1296.16,313.02Z" fill="#e7e3e5"/>
<path d="M1281.25,319.87 L1269.15,317.46 L1273.36,303.57 L1284.76,308.29Z" fill="#e7e3e5"/>
<path d="M1330.35,327.18 L1318.95,322.46 L1321.23,318.19 L1331.49,325.05Z" fill="#d8c7b2"/>
<path d="M1318.95,322.46 L1307.56,317.74 L1310.98,311.34 L1321.23,318.19Z" fill="#b3b389"/>
<path d="M1307.56,317.74 L1296.16,313.02 L1300.72,304.48 L1310.98,311.34Z" fill="#e4e0e1"/>
<path d="M1296.16,313.02 L1284.76,308.29 L1290.46,297.63 L1300.72,304.48Z" fill="#e7e3e5"/>
<path d="M1331.49,325.05 L1321.23,318.19 L1324.30,314.45 L1333.03,323.18Z" fill="#80a47a"/>
<path d="M1321.23,318.19 L1310.98,311.34 L1315.58,305.73 L1324.30,314.45Z" fill="#ded5cd"/>
<path d="M1310.98,311.34 L1300.72,304.48 L1306.86,297.01 L1315.58,305.73Z" fill="#e4e0e1"/>
<path d="M1300.72,304.48 L1290.46,297.63 L1298.13,288.28 L1306.86,297.01Z" fill="#eae8eb"/>
<path d="M1333.03,323.18 L1324.30,314.45 L1328.04,311.38 L1334.90,321.64Z" fill="#ded5cd"/>
<path d="M1324.30,314.45 L1315.58,305.73 L1321.19,301.13 L1328.04,311.38Z" fill="#e1dad7"/>
<path d="M1334.90,321.64 L1328.04,311.38 L1332.31,309.10 L1337.03,320.50Z" fill="#e4e0e1"/>
<path d="M1328.04,311.38 L1321.19,301.13 L1327.59,297.71 L1332.31,309.10Z" fill="#dcd2c8"/>
<path d="M1321.19,301.13 L1314.33,290.87 L1322.87,286.31 L1327.59,297.71Z" fill="#e7e3e5"/>
<path d="M1337.03,320.50 L1332.31,309.10 L1336.94,307.70 L1339.34,319.80Z" fill="#ded5cd"/>
<path d="M1332.31,309.10 L1327.59,297.71 L1334.53,295.60 L1336.94,307.70Z" fill="#e4e0e1"/>
<path d="M1327.59,297.71 L1322.87,286.31 L1332.12,283.50 L1334.53,295.60Z" fill="#e9e7e9"/>
<path d="M1339.34,319.80 L1336.94,307.70 L1341.75,307.23 L1341.75,319.56Z" fill="#dbcfc3"/>
<path d="M1336.94,307.70 L1334.53,295.60 L1341.75,294.89 L1341.75,307.23Z" fill="#dbcfc3"/>
<path d="M1334.53,295.60 L1332.12,283.50 L1341.75,282.55 L1341.75,294.89Z" fill="#dfd8d2"/>
<path d="M1341.75,319.56 L1341.75,307.23 L1346.56,307.70 L1344.16,319.80Z" fill="#e7e3e5"/>
<path d="M1341.75,307.23 L1341.75,294.89 L1348.97,295.60 L1346.56,307.70Z" fill="#e1dad7"/>
<path d="M1341.75,294.89 L1341.75,282.55 L1351.38,283.50 L1348.97,295.60Z" fill="#e4e0e1"/>
<path d="M1344.16,319.80 L1346.56,307.70 L1351.19,309.10 L1346.47,320.50Z" fill="#e4e0e1"/>
<path d="M1346.56,307.70 L1348.97,295.60 L1355.91,297.71 L1351.19,309.10Z" fill="#e1dad7"/>
<path d="M1348.97,295.60 L1351.38,283.50 L1360.63,286.31 L1355.91,297.71Z" fill="#e9e7e9"/>
<path d="M1346.47,320.50 L1351.19,309.10 L1355.46,311.38 L1348.60,321.64Z" fill="#e7e3e5"/>
<path d="M1351.19,309.10 L1355.91,297.71 L1362.31,301.13 L1355.46,311.38Z" fill="#e1dad7"/>
<path d="M1355.91,297.71 L1360.63,286.31 L1369.17,290.87 L1362.31,301.13Z" fill="#e7e3e5"/>
<path d="M1348.60,321.64 L1355.46,311.38 L1359.20,314.45 L1350.47,323.18Z" fill="#8ca87d"/>
<path d="M1355.46,311.38 L1362.31,301.13 L1367.92,305.73 L1359.20,314.45Z" fill="#d5bfa1"/>
<path d="M1362.31,301.13 L1369.17,290.87 L1376.64,297.01 L1367.92,305.73Z" fill="#e7e3e5"/>
<path d="M1350.47,323.18 L1359.20,314.45 L1362.27,318.19 L1352.01,325.05Z" fill="#d7c3aa"/>
<path d="M1359.20,314.45 L1367.92,305.73 L1372.52,311.34 L1362.27,318.19Z" fill="#e9e7e9"/>
<path d="M1352.01,325.05 L1362.27,318.19 L1364.55,322.46 L1353.15,327.18Z" fill="#e4e0e1"/>
<path d="M1362.27,318.19 L1372.52,311.34 L1375.94,317.74 L1364.55,322.46Z" fill="#ebe9ec"/>
<path d="M1353.15,327.18 L1364.55,322.46 L1365.95,327.09 L1353.85,329.49Z" fill="#e4e0e1"/>
<path d="M1364.55,322.46 L1375.94,317.74 L1378.05,324.68 L1365.95,327.09Z" fill="#ebe9ec"/>
<path d="M1375.94,317.74 L1387.34,313.02 L1390.15,322.27 L1378.05,324.68Z" fill="#e2dddc"/>
<path d="M1387.34,313.02 L1398.74,308.29 L1402.25,319.87 L1390.15,322.27Z" fill="#e7e3e5"/>
<path d="M1353.85,329.49 L1365.95,327.09 L1366.42,331.90 L1354.09,331.90Z" fill="#e9e7e9"/>
<path d="M1365.95,327.09 L1378.05,324.68 L1378.76,331.90 L1366.42,331.90Z" fill="#e4e0e1"/>
<path d="M1378.05,324.68 L1390.15,322.27 L1391.10,331.90 L1378.76,331.90Z" fill="#e1dad7"/>
<path d="M1390.15,322.27 L1402.25,319.87 L1403.43,331.90 L1391.10,331.90Z" fill="#dfd8d2"/>
<path d="M1354.09,331.90 L1366.42,331.90 L1365.95,336.71 L1353.85,334.31Z" fill="#eceaee"/>
<path d="M1366.42,331.90 L1378.76,331.90 L1378.05,339.12 L1365.95,336.71Z" fill="#e9e7e9"/>
<path d="M1378.76,331.90 L1391.10,331.90 L1390.15,341.53 L1378.05,339.12Z" fill="#e2dddc"/>
<path d="M1391.10,331.90 L1403.43,331.90 L1402.25,343.93 L1390.15,341.53Z" fill="#b3b389"/>
<path d="M1353.85,334.31 L1365.95,336.71 L1364.55,341.34 L1353.15,336.62Z" fill="#eceaee"/>
<path d="M1365.95,336.71 L1378.05,339.12 L1375.94,346.06 L1364.55,341.34Z" fill="#dfd8d2"/>
<path d="M1378.05,339.12 L1390.15,341.53 L1387.34,350.78 L1375.94,346.06Z" fill="#d8c7b2"/>
<path d="M1390.15,341.53 L1402.25,343.93 L1398.74,355.51 L1387.34,350.78Z" fill="#dbcfc3"/>
<path d="M1353.15,336.62 L1364.55,341.34 L1362.27,345.61 L1352.01,338.75Z" fill="#e9e7e9"/>
<path d="M1364.55,341.34 L1375.94,346.06 L1372.52,352.46 L1362.27,345.61Z" fill="#e4e0e1"/>
<path d="M1375.94,346.06 L1387.34,350.78 L1382.78,359.32 L1372.52,352.46Z" fill="#e7e3e5"/>
<path d="M1352.01,338.75 L1362.27,345.61 L1359.20,349.35 L1350.47,340.62Z" fill="#e4e0e1"/>
<path d="M1362.27,345.61 L1372.52,352.46 L1367.92,358.07 L1359.20,349.35Z" fill="#e9e7e9"/>
<path d="M1372.52,352.46 L1382.78,359.32 L1376.64,366.79 L1367.92,358.07Z" fill="#e7e3e5"/>
<path d="M1350.47,340.62 L1359.20,349.35 L1355.46,352.42 L1348.60,342.16Z" fill="#dfd8d2"/>
<path d="M1359.20,349.35 L1367.92,358.07 L1362.31,362.67 L1355.46,352.42Z" fill="#d7c3aa"/>
<path d="M1367.92,358.07 L1376.64,366.79 L1369.17,372.93 L1362.31,362.67Z" fill="#e7e3e5"/>
<path d="M1348.60,342.16 L1355.46,352.42 L1351.19,354.70 L1346.47,343.30Z" fill="#e7e3e5"/>
<path d="M1355.46,352.42 L1362.31,362.67 L1355.91,366.09 L1351.19,354.70Z" fill="#e2dddc"/>
<path d="M1362.31,362.67 L1369.17,372.93 L1360.63,377.49 L1355.91,366.09Z" fill="#e7e3e5"/>
<path d="M1346.47,343.30 L1351.19,354.70 L1346.56,356.10 L1344.16,344.00Z" fill="#e4e0e1"/>
<path d="M1351.19,354.70 L1355.91,366.09 L1348.97,368.20 L1346.56,356.10Z" fill="#d7c3aa"/>
<path d="M1355.91,366.09 L1360.63,377.49 L1351.38,380.30 L1348.97,368.20Z" fill="#e2dddc"/>
<path d="M1344.16,344.00 L1346.56,356.10 L1341.75,356.57 L1341.75,344.24Z" fill="#e9e7e9"/>
<path d="M1351.38,380.30 L1353.78,392.40 L1341.75,393.58 L1341.75,381.25Z" fill="#e7e3e5"/>
<path d="M1341.75,344.24 L1341.75,356.57 L1336.94,356.10 L1339.34,344.00Z" fill="#e9e7e9"/>
<path d="M1339.34,344.00 L1336.94,356.10 L1332.31,354.70 L1337.03,343.30Z" fill="#e4e0e1"/>
<path d="M1337.03,343.30 L1332.31,354.70 L1328.04,352.42 L1334.90,342.16Z" fill="#dbcfc3"/>
<path d="M1334.90,342.16 L1328.04,352.42 L1324.30,349.35 L1333.03,340.62Z" fill="#d8c7b2"/>
<path d="M1333.03,340.62 L1324.30,349.35 L1321.23,345.61 L1331.49,338.75Z" fill="#d8c7b2"/>
<path d="M1331.49,338.75 L1321.23,345.61 L1318.95,341.34 L1330.35,336.62Z" fill="#ded5cd"/>
<path d="M1330.35,336.62 L1318.95,341.34 L1317.55,336.71 L1329.65,334.31Z" fill="#dcd2c8"/>
<path d="M1341.75,331.90 L1341.75,319.56 L1344.16,319.80 L1341.75,331.90Z" fill="#e9e7e9"/>
<path d="M1341.75,331.90 L1339.34,319.80 L1341.75,319.56 L1341.75,331.90Z" fill="#ded5cd"/>
<path d="M1341.75,331.90 L1337.03,320.50 L1339.34,319.80 L1341.75,331.90Z" fill="#e1dad7"/>
<path d="M1341.75,331.90 L1334.90,321.64 L1337.03,320.50 L1341.75,331.90Z" fill="#e1dad7"/>
<path d="M1341.75,331.90 L1333.03,323.18 L1334.90,321.64 L1341.75,331.90Z" fill="#e4e0e1"/>
<path d="M1341.75,331.90 L1331.49,325.05 L1333.03,323.18 L1341.75,331.90Z" fill="#e4e0e1"/>
<path d="M1341.75,331.90 L1330.35,327.18 L1331.49,325.05 L1341.75,331.90Z" fill="#e4e0e1"/>
<path d="M1341.75,331.90 L1329.65,329.49 L1330.35,327.18 L1341.75,331.90Z" fill="#e4e0e1"/>
<path d="M1341.75,331.90 L1329.41,331.90 L1329.65,329.49 L1341.75,331.90Z" fill="#e4e0e1"/>
<path d="M1341.75,331.90 L1329.65,334.31 L1329.41,331.90 L1341.75,331.90Z" fill="#e4e0e1"/>
<path d="M1341.75,331.90 L1330.35,336.62 L1329.65,334.31 L1341.75,331.90Z" fill="#dbcfc3"/>
<path d="M1341.75,331.90 L1331.49,338.75 L1330.35,336.62 L1341.75,331.90Z" fill="#dbcfc3"/>
<path d="M1341.75,331.90 L1333.03,340.62 L1331.49,338.75 L1341.75,331.90Z" fill="#d8c7b2"/>
<path d="M1341.75,331.90 L1334.90,342.16 L1333.03,340.62 L1341.75,331.90Z" fill="#ded5cd"/>
<path d="M1341.75,331.90 L1337.03,343.30 L1334.90,342.16 L1341.75,331.90Z" fill="#ded5cd"/>
<path d="M1341.75,331.90 L1339.34,344.00 L1337.03,343.30 L1341.75,331.90Z" fill="#e9e7e9"/>
<path d="M1341.75,331.90 L1341.75,344.24 L1339.34,344.00 L1341.75,331.90Z" fill="#e9e7e9"/>
<path d="M1341.75,331.90 L1344.16,344.00 L1341.75,344.24 L1341.75,331.90Z" fill="#e9e7e9"/>
<path d="M1341.75,331.90 L1346.47,343.30 L1344.16,344.00 L1341.75,331.90Z" fill="#e9e7e9"/>
<path d="M1341.75,331.90 L1348.60,342.16 L1346.47,343.30 L1341.75,331.90Z" fill="#e9e7e9"/>
<path d="M1341.75,331.90 L1350.47,340.62 L1348.60,342.16 L1341.75,331.90Z" fill="#e9e7e9"/>
<path d="M1341.75,331.90 L1352.01,338.75 L1350.47,340.62 L1341.75,331.90Z" fill="#e9e7e9"/>
<path d="M1341.75,331.90 L1353.15,336.62 L1352.01,338.75 L1341.75,331.90Z" fill="#eae8eb"/>
<path d="M1341.75,331.90 L1353.85,334.31 L1353.15,336.62 L1341.75,331.90Z" fill="#eae8eb"/>
<path d="M1341.75,331.90 L1354.09,331.90 L1353.85,334.31 L1341.75,331.90Z" fill="#eae8eb"/>
<path d="M1341.75,331.90 L1353.85,329.49 L1354.09,331.90 L1341.75,331.90Z" fill="#eae8eb"/>
<path d="M1341.75,331.90 L1353.15,327.18 L1353.85,329.49 L1341.75,331.90Z" fill="#e9e7e9"/>
<path d="M1341.75,331.90 L1352.01,325.05 L1353.15,327.18 L1341.75,331.90Z" fill="#e7e3e5"/>
<path d="M1341.75,331.90 L1350.47,323.18 L1352.01,325.05 L1341.75,331.90Z" fill="#e7e3e5"/>
<path d="M1341.75,331.90 L1348.60,321.64 L1350.47,323.18 L1341.75,331.90Z" fill="#e7e3e5"/>
<path d="M1341.75,331.90 L1346.47,320.50 L1348.60,321.64 L1341.75,331.90Z" fill="#e9e7e9"/>
<path d="M1341.75,331.90 L1344.16,319.80 L1346.47,320.50 L1341.75,331.90Z" fill="#e9e7e9"/>
</g>
<circle cx="1341.75" cy="331.9" r="48.25" fill="none" stroke="#b0b0b0" stroke-width="1.1"/>
<circle cx="1341.75" cy="331.9" r="96.50" fill="none" stroke="#b0b0b0" stroke-width="1.1"/>
<circle cx="1341.75" cy="331.9" r="144.75" fill="none" stroke="#b0b0b0" stroke-width="1.1"/>
<circle cx="1341.75" cy="331.9" r="193.00" fill="none" stroke="#b0b0b0" stroke-width="1.1"/>
<line x1="1342.5" y1="331.9" x2="1342.5" y2="97.50" stroke="#b0b0b0" stroke-width="1.1"/>
<line x1="1341.75" y1="331.9" x2="1507.50" y2="166.15" stroke="#b0b0b0" stroke-width="1.1"/>
<line x1="1341.75" y1="332.5" x2="1576.15" y2="332.5" stroke="#b0b0b0" stroke-width="1.1"/>
<line x1="1341.75" y1="331.9" x2="1507.50" y2="497.65" stroke="#b0b0b0" stroke-width="1.1"/>
<line x1="1342.5" y1="331.9" x2="1342.5" y2="566.30" stroke="#b0b0b0" stroke-width="1.1"/>
<line x1="1341.75" y1="331.9" x2="1176.00" y2="497.65" stroke="#b0b0b0" stroke-width="1.1"/>
<line x1="1341.75" y1="332.5" x2="1107.35" y2="332.5" stroke="#b0b0b0" stroke-width="1.1"/>
<line x1="1341.75" y1="331.9" x2="1176.00" y2="166.15" stroke="#b0b0b0" stroke-width="1.1"/>
<circle cx="1341.75" cy="331.9" r="234.4" fill="none" stroke="#000" stroke-width="1.2"/>
<circle cx="1576.15" cy="331.90" r="1.1" fill="#000"/>
<rect x="406.3" y="605.3" width="800.2" height="30.1" fill="url(#cb)" stroke="#000" stroke-width="1.1"/>
<line x1="406.30" y1="635.4" x2="406.30" y2="657.3" stroke="#000" stroke-width="1.1"/>
<line x1="501.56" y1="635.4" x2="501.56" y2="657.3" stroke="#000" stroke-width="1.1"/>
<line x1="596.82" y1="635.4" x2="596.82" y2="657.3" stroke="#000" stroke-width="1.1"/>
<line x1="692.09" y1="635.4" x2="692.09" y2="657.3" stroke="#000" stroke-width="1.1"/>
<line x1="787.35" y1="635.4" x2="787.35" y2="657.3" stroke="#000" stroke-width="1.1"/>
<line x1="882.61" y1="635.4" x2="882.61" y2="657.3" stroke="#000" stroke-width="1.1"/>
<line x1="977.87" y1="635.4" x2="977.87" y2="657.3" stroke="#000" stroke-width="1.1"/>
<line x1="1073.13" y1="635.4" x2="1073.13" y2="657.3" stroke="#000" stroke-width="1.1"/>
<line x1="1168.40" y1="635.4" x2="1168.40" y2="657.3" stroke="#000" stroke-width="1.1"/><g style="filter:grayscale(1)"><text x="266.88" y="84.0" font-size="19.4" text-anchor="start" textLength="14.93" lengthAdjust="spacingAndGlyphs">N</text>
<text x="522.03" y="338.1" font-size="19.4" text-anchor="start" textLength="11.75" lengthAdjust="spacingAndGlyphs">E</text>
<text x="267.64" y="592.0" font-size="19.4" text-anchor="start" textLength="12.29" lengthAdjust="spacingAndGlyphs">S</text>
<text x="11.38" y="338.1" font-size="19.4" text-anchor="start" textLength="18.13" lengthAdjust="spacingAndGlyphs">W</text>
<text x="317.79" y="309.3" font-size="18.8" text-anchor="start" textLength="29.27" lengthAdjust="spacingAndGlyphs">0.5</text>
<text x="363.13" y="290.9" font-size="18.8" text-anchor="start" textLength="29.86" lengthAdjust="spacingAndGlyphs">1.0</text>
<text x="407.05" y="273.0" font-size="18.8" text-anchor="start" textLength="28.79" lengthAdjust="spacingAndGlyphs">1.5</text>
<text x="452.00" y="255.1" font-size="18.8" text-anchor="start" textLength="29.98" lengthAdjust="spacingAndGlyphs">2.0</text>
<text x="801.38" y="84.0" font-size="19.4" text-anchor="start" textLength="15.13" lengthAdjust="spacingAndGlyphs">N</text>
<text x="1056.51" y="338.1" font-size="19.4" text-anchor="start" textLength="11.94" lengthAdjust="spacingAndGlyphs">E</text>
<text x="802.38" y="592.0" font-size="19.4" text-anchor="start" textLength="12.30" lengthAdjust="spacingAndGlyphs">S</text>
<text x="545.89" y="338.1" font-size="19.4" text-anchor="start" textLength="18.35" lengthAdjust="spacingAndGlyphs">W</text>
<text x="852.67" y="309.3" font-size="18.8" text-anchor="start" textLength="29.31" lengthAdjust="spacingAndGlyphs">0.5</text>
<text x="897.58" y="290.9" font-size="18.8" text-anchor="start" textLength="29.95" lengthAdjust="spacingAndGlyphs">1.0</text>
<text x="941.94" y="273.0" font-size="18.8" text-anchor="start" textLength="28.68" lengthAdjust="spacingAndGlyphs">1.5</text>
<text x="986.59" y="255.1" font-size="18.8" text-anchor="start" textLength="29.89" lengthAdjust="spacingAndGlyphs">2.0</text>
<text x="1335.57" y="84.0" font-size="19.4" text-anchor="start" textLength="15.04" lengthAdjust="spacingAndGlyphs">N</text>
<text x="1590.59" y="338.1" font-size="19.4" text-anchor="start" textLength="11.94" lengthAdjust="spacingAndGlyphs">E</text>
<text x="1336.62" y="592.0" font-size="19.4" text-anchor="start" textLength="12.31" lengthAdjust="spacingAndGlyphs">S</text>
<text x="1079.98" y="338.1" font-size="19.4" text-anchor="start" textLength="18.15" lengthAdjust="spacingAndGlyphs">W</text>
<text x="1386.83" y="309.3" font-size="18.8" text-anchor="start" textLength="29.19" lengthAdjust="spacingAndGlyphs">0.5</text>
<text x="1431.69" y="290.9" font-size="18.8" text-anchor="start" textLength="29.99" lengthAdjust="spacingAndGlyphs">1.0</text>
<text x="1476.07" y="273.0" font-size="18.8" text-anchor="start" textLength="28.67" lengthAdjust="spacingAndGlyphs">1.5</text>
<text x="1520.44" y="255.1" font-size="18.8" text-anchor="start" textLength="30.12" lengthAdjust="spacingAndGlyphs">2.0</text>
<text x="742.60" y="32.0" font-size="30.4" text-anchor="start" textLength="123.03" lengthAdjust="spacingAndGlyphs">Jan 2005</text>
<text x="236.69" y="61.2" font-size="25.3" text-anchor="start" textLength="73.67" lengthAdjust="spacingAndGlyphs">CIOFS</text>
<text x="758.74" y="60.5" font-size="25.1" text-anchor="start" textLength="98.11" lengthAdjust="spacingAndGlyphs">NWGOA</text>
<text x="1250.37" y="60.8" font-size="24.8" text-anchor="start" textLength="182.27" lengthAdjust="spacingAndGlyphs">CIOFS-NWGOA</text>
<text x="399.26" y="680.9" font-size="23.1" text-anchor="start" textLength="13.97" lengthAdjust="spacingAndGlyphs">0</text>
<text x="494.73" y="680.9" font-size="23.1" text-anchor="start" textLength="13.55" lengthAdjust="spacingAndGlyphs">5</text>
<text x="582.85" y="680.9" font-size="23.1" text-anchor="start" textLength="27.06" lengthAdjust="spacingAndGlyphs">10</text>
<text x="677.87" y="680.9" font-size="23.1" text-anchor="start" textLength="27.34" lengthAdjust="spacingAndGlyphs">15</text>
<text x="773.53" y="680.9" font-size="23.1" text-anchor="start" textLength="27.56" lengthAdjust="spacingAndGlyphs">20</text>
<text x="868.53" y="680.9" font-size="23.1" text-anchor="start" textLength="27.78" lengthAdjust="spacingAndGlyphs">25</text>
<text x="964.01" y="680.9" font-size="23.1" text-anchor="start" textLength="27.47" lengthAdjust="spacingAndGlyphs">30</text>
<text x="1059.36" y="680.9" font-size="23.1" text-anchor="start" textLength="27.55" lengthAdjust="spacingAndGlyphs">35</text>
<text x="1155.08" y="680.9" font-size="23.1" text-anchor="start" textLength="26.91" lengthAdjust="spacingAndGlyphs">40</text>
<text x="522.24" y="708.9" font-size="23.1" text-anchor="start" textLength="565.57" lengthAdjust="spacingAndGlyphs">Currents [m/s] at COI0306; number of occurrences</text></g></svg>
</body></html>
